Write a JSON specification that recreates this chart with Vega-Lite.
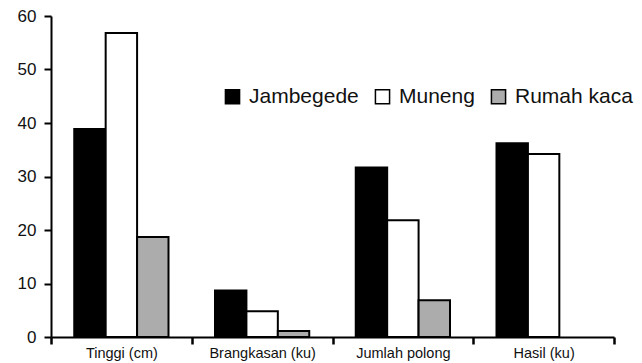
{
  "$schema": "https://vega.github.io/schema/vega-lite/v6.json",
  "width": 563,
  "height": 321,
  "autosize": {"type": "none"},
  "padding": {"left": 51, "top": 16, "right": 28, "bottom": 26},
  "background": "white",
  "config": {
    "view": {"stroke": null},
    "font": "Liberation Sans",
    "axis": {"grid": false, "domainColor": "black", "domainWidth": 2, "tickColor": "black", "tickWidth": 2, "labelColor": "#111", "labelFont": "Liberation Sans", "title": null}
  },
  "data": {"values": [
    {"kategori": "Tinggi (cm)", "lokasi": "Jambegede", "nilai": 38.9},
    {"kategori": "Tinggi (cm)", "lokasi": "Muneng", "nilai": 56.8},
    {"kategori": "Tinggi (cm)", "lokasi": "Rumah kaca", "nilai": 18.7},
    {"kategori": "Brangkasan (ku)", "lokasi": "Jambegede", "nilai": 8.7},
    {"kategori": "Brangkasan (ku)", "lokasi": "Muneng", "nilai": 4.8},
    {"kategori": "Brangkasan (ku)", "lokasi": "Rumah kaca", "nilai": 1.1},
    {"kategori": "Jumlah polong", "lokasi": "Jambegede", "nilai": 31.7},
    {"kategori": "Jumlah polong", "lokasi": "Muneng", "nilai": 21.8},
    {"kategori": "Jumlah polong", "lokasi": "Rumah kaca", "nilai": 6.85},
    {"kategori": "Hasil (ku)", "lokasi": "Jambegede", "nilai": 36.2},
    {"kategori": "Hasil (ku)", "lokasi": "Muneng", "nilai": 34.2}
  ]},
  "mark": {"type": "bar", "stroke": "black", "strokeWidth": 2},
  "encoding": {
    "x": {
      "field": "kategori", "type": "nominal",
      "sort": ["Tinggi (cm)", "Brangkasan (ku)", "Jumlah polong", "Hasil (ku)"],
      "scale": {"paddingInner": 0, "paddingOuter": 0},
      "axis": {"ticks": true, "tickBand": "extent", "tickExtra": true, "tickColor": "black", "tickWidth": 2.5, "tickOpacity": 1, "labelAngle": 0, "labelFontSize": 14.5, "tickSize": 7, "labelPadding": 2, "labelBound": false}
    },
    "xOffset": {
      "field": "lokasi", "type": "nominal",
      "sort": ["Jambegede", "Muneng", "Rumah kaca"],
      "scale": {"paddingInner": 0, "paddingOuter": 0.74}
    },
    "y": {
      "field": "nilai", "type": "quantitative",
      "scale": {"domain": [0, 60], "nice": false},
      "axis": {"values": [0, 10, 20, 30, 40, 50, 60], "labelFontSize": 17, "tickSize": 7, "labelPadding": 8}
    },
    "fill": {
      "field": "lokasi", "type": "nominal",
      "sort": ["Jambegede", "Muneng", "Rumah kaca"],
      "scale": {"domain": ["Jambegede", "Muneng", "Rumah kaca"], "range": ["#000000", "#ffffff", "#acacac"]},
      "legend": {
        "title": null, "orient": "none", "direction": "horizontal",
        "legendX": 171, "legendY": 70,
        "symbolType": "square", "symbolSize": 200, "symbolStrokeColor": "black", "symbolStrokeWidth": 1.5,
        "labelFontSize": 21, "labelColor": "#111", "labelFont": "Liberation Sans",
        "columnPadding": 13, "labelOffset": 6
      }
    }
  }
}
